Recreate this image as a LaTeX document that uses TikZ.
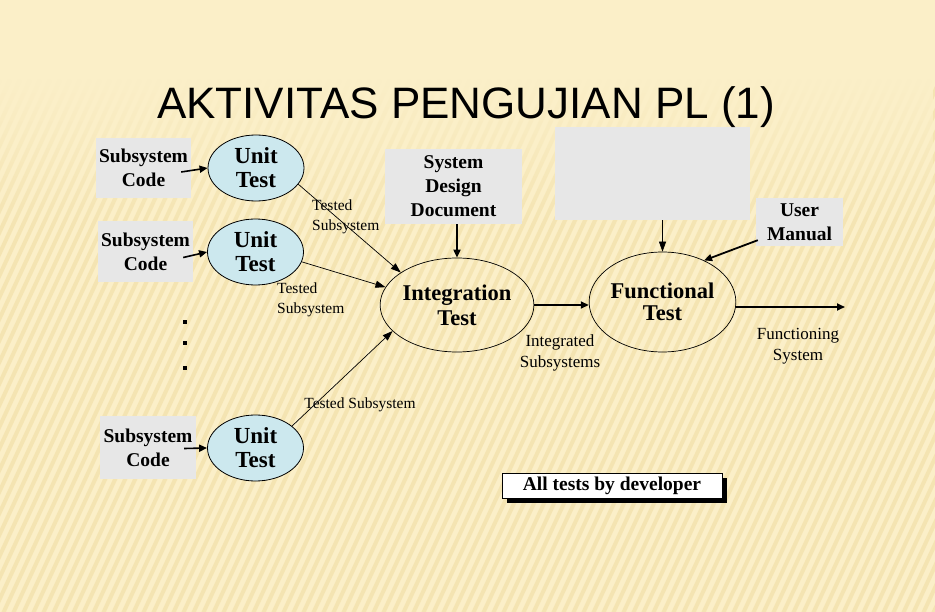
\documentclass[tikz,border=0pt]{standalone}
\usepackage{fontspec}
\setmainfont{Liberation Serif}
\newfontfamily\titlefont{Liberation Sans}
\usetikzlibrary{arrows.meta,shapes.geometric,fadings}
\definecolor{bgcream}{RGB}{251,239,200}
\definecolor{stripecol}{RGB}{240,220,160}
\definecolor{boxgray}{RGB}{231,231,231}
\definecolor{unitblue}{RGB}{204,232,238}
\begin{document}
\begin{tikzpicture}[x=1pt,y=-1pt,
  srcbox/.style={rectangle, draw=none, fill=boxgray, inner sep=0pt, align=center,
    font=\bfseries\fontsize{19.5}{24}\selectfont},
  unitell/.style={ellipse, draw, line width=0.8pt, fill=unitblue, inner sep=0pt,
    minimum width=96pt, minimum height=66pt, align=center,
    execute at begin node={\rule{0pt}{22pt}},
    font=\bfseries\fontsize{23}{24}\selectfont},
  bigell/.style={ellipse, draw, line width=0.7pt, inner sep=0pt, align=center,
    execute at begin node={\rule{0pt}{20pt}},
    font=\bfseries\fontsize{22.5}{25}\selectfont},
  lab/.style={inner sep=0pt, align=left, font=\fontsize{15.5}{20}\selectfont},
  labc/.style={inner sep=0pt, align=center, font=\fontsize{17}{21}\selectfont},
  thinarr/.style={-{Triangle[length=10pt,width=7pt]}, line width=0.7pt},
  thickarr/.style={-{Triangle[length=8pt,width=7pt]}, line width=1.8pt},
  stripe/.style={stripecol, line width=4pt, opacity=0.55},
  dotmark/.style={fill=black, inner sep=0pt, minimum width=3.5pt, minimum height=4.5pt, rectangle}
]
% background
\useasboundingbox (0,0) rectangle (935,612);
\fill[bgcream] (0,0) rectangle (935,612);
\begin{scope}
  \clip (0,80) rectangle (935,612);
  \foreach \i in {-260,-250,...,940} \draw[stripe] (\i,620) -- ++(250,-540);
\end{scope}
\fill[bgcream, path fading=south] (0,79) rectangle (935,230);

% source boxes
\node[srcbox, minimum width=95pt, minimum height=60pt] (b1) at (143.5,168) {Subsystem\\Code};
\node[srcbox, minimum width=95pt, minimum height=61pt] (b2) at (145.5,251.5) {Subsystem\\Code};
\node[srcbox, minimum width=96pt, minimum height=63pt] (b3) at (148,447.5) {Subsystem\\Code};

% unit tests
\node[unitell] (u1) at (256,168) {Unit\\Test};
\node[unitell] (u2) at (255.5,252) {Unit\\Test};
\node[unitell] (u3) at (255.5,448) {Unit\\Test};

\draw[thickarr, line width=1.6pt] ([xshift=-10pt,yshift=-4pt]b1.east) -- (u1.west);
\draw[thickarr, line width=1.6pt] ([xshift=-10pt,yshift=-6pt]b2.east) -- (u2.west);
\draw[thickarr, line width=1.6pt] ([xshift=-12pt,yshift=-1pt]b3.east) -- (u3.west);

% dots
\node[dotmark] (d1) at (185,322) {};
\node[dotmark] (d2) at (185,343) {};
\node[dotmark] (d3) at (185,368) {};

% system design document
\node[srcbox, minimum width=137pt, minimum height=75pt] (sdd) at (453.5,186.5) {System\\Design\\Document};

% integration test
\node[bigell, minimum width=140pt, minimum height=94pt] (integ) at (457,305) {Integration\\Test};

\draw[thinarr] (u1.-21) -- (integ.150);
\draw[thinarr] (u2.-12) -- (integ.166);
\draw[thinarr] (u3.31) -- (integ.202);
\draw[thickarr] (integ.north |- sdd.south) -- (integ.north);

\node[lab, anchor=west] (l1) at (312,217) {Tested\\Subsystem};
\node[lab, anchor=west] (l2) at (277,299.5) {Tested\\Subsystem};
\node[lab] (l3) at (360,405) {Tested Subsystem};

% empty box and user manual
\node[srcbox, minimum width=195pt, minimum height=93pt] (emp) at (652.5,173.5) {};
\node[srcbox, minimum width=87pt, minimum height=48pt] (um) at (799.5,222) {User\\Manual};

% functional test
\node[bigell, minimum width=137pt, minimum height=100pt, font=\bfseries\fontsize{22.5}{22}\selectfont] (func) at (662.5,302) {Functional\\Test};

\draw[thinarr] (func.north |- emp.south) -- (func.north);
\draw[thickarr] ([xshift=2pt,yshift=6pt]um.south west) -- (func.45);
\draw[thickarr] (integ.east) -- (integ.east -| func.west);
\coordinate (fsend) at (845,307);
\draw[thickarr] (func.east |- fsend) -- (fsend);

\node[labc] (l4) at (560,352.5) {Integrated\\Subsystems};
\node[labc] (l5) at (798,346.5) {Functioning\\System};

% all tests by developer
\fill[black] (507,478) rectangle (727,503);
\node[rectangle, draw, line width=0.8pt, fill=white, minimum width=220pt, minimum height=25pt,
  inner sep=0pt, font=\bfseries\fontsize{19.5}{20}\selectfont] (dev) at (612,485.5) {All tests by developer};

% title
\node[anchor=base, inner sep=0pt, font=\titlefont\fontsize{44}{48}\selectfont] (title) at (466,119) {AKTIVITAS PENGUJIAN PL (1)};
\end{tikzpicture}
\end{document}
